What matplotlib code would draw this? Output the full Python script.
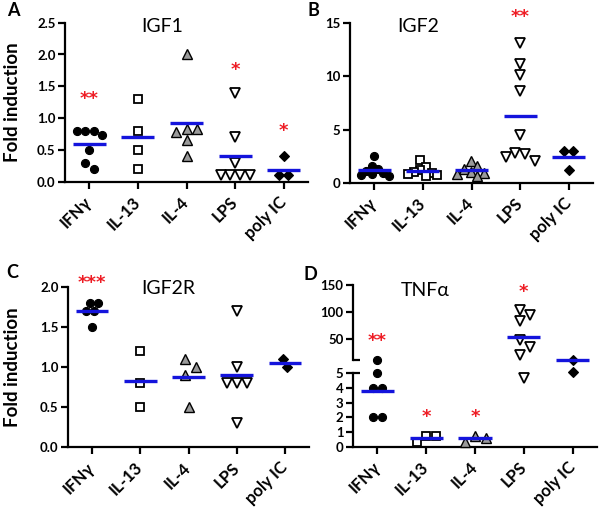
import matplotlib
matplotlib.use("Agg")
import matplotlib.pyplot as plt
import numpy as np

plt.rcParams['font.family'] = ['Lato', 'DejaVu Sans']
plt.rcParams['font.weight'] = 'bold'

categories = ["IFNγ", "IL-13", "IL-4", "LPS", "poly IC"]

# ---- Panel A: IGF1 ----
igf1_values = [
    [0.8, 0.73, 0.8, 0.8, 0.5, 0.3, 0.2],
    [1.3, 0.8, 0.5, 0.2],
    [2.0, 0.83, 0.78, 0.83, 0.65, 0.4],
    [1.4, 0.7, 0.3, 0.1, 0.1, 0.1, 0.1],
    [0.4, 0.1, 0.1],
]
igf1_means = [0.59, 0.70, 0.93, 0.40, 0.19]
igf1_stars = ["**", "", "", "*", "*"]
igf1_star_y = [1.3, None, None, 1.75, 0.8]

# ---- Panel B: IGF2 ----
igf2_values = [
    [2.5, 1.6, 1.3, 1.1, 0.9, 0.8, 0.7, 0.6],
    [2.1, 1.5, 1.2, 1.0, 0.9, 0.8, 0.7, 0.6],
    [2.0, 1.6, 1.3, 1.0, 0.9, 0.8, 0.6],
    [13.1, 11.2, 10.1, 8.6, 4.5, 2.8, 2.7, 2.45, 2.05],
    [3.0, 3.0, 1.15],
]
igf2_means = [1.2, 1.1, 1.2, 6.3, 2.45]
igf2_stars = ["", "", "", "**", ""]
igf2_star_y = [None, None, None, 15.6, None]

# ---- Panel C: IGF2R ----
igf2r_values = [
    [1.8, 1.8, 1.7, 1.7, 1.5],
    [1.2, 0.8, 0.5],
    [1.1, 1.0, 0.9, 0.5],
    [1.7, 1.0, 0.8, 0.8, 0.8, 0.3],
    [1.0, 1.1],
]
igf2r_means = [1.7, 0.83, 0.88, 0.9, 1.05]
igf2r_stars = ["***", "", "", "", ""]
igf2r_star_y = [2.05, None, None, None, None]

# ---- Panel D: TNFa (broken axis) ----
tnf_values = [
    [10, 5, 4, 4, 2, 2],
    [0.7, 0.7, 0.35],
    [0.7, 0.6, 0.3],
    [103, 94, 83, 47, 34, 19, 4.7],
    [10, 5.1],
]
tnf_means = [3.8, 0.57, 0.57, 53.5, 10]
tnf_stars = ["**", "*", "*", "*", ""]
tnf_star_y = [45, 2.0, 2.0, 136, None]

BLUE = '#1414dc'
RED = '#ee1c24'

marker_styles = [
    dict(marker='o', mfc='black', mec='black', ms=5.8, mew=0.8),
    dict(marker='s', mfc='white', mec='black', ms=6.0, mew=1.3),
    dict(marker='^', mfc='#9a9a9a', mec='black', ms=7.0, mew=1.0),
    dict(marker='v', mfc='white', mec='black', ms=6.6, mew=1.3),
    dict(marker='D', mfc='black', mec='black', ms=4.6, mew=0.8),
]
marker_px = [8.5, 9.5, 10.5, 10.0, 9.5]
MAX_SPREAD = 0.30  # max horizontal scatter, in category units

fig = plt.figure(figsize=(6.0, 5.13), dpi=100)


def style_axis(ax, xaxis=True):
    for s in ['top', 'right']:
        ax.spines[s].set_visible(False)
    ax.spines['left'].set_linewidth(1.6)
    ax.spines['bottom'].set_linewidth(1.6)
    ax.tick_params(axis='both', direction='out', length=4.8, width=1.6,
                   labelsize=9.5, pad=2)
    ax.set_xlim(-0.5, 4.5)
    ax.set_xticks(range(len(categories)))
    if xaxis:
        ax.set_xticklabels(categories, rotation=45, ha='right', va='center',
                           rotation_mode='anchor', fontsize=12)
        ax.tick_params(axis='x', pad=8)
    else:
        ax.spines['bottom'].set_visible(False)
        ax.tick_params(axis='x', bottom=False, labelbottom=False)


def swarm(ypx, d):
    ypx = np.asarray(ypx, dtype=float)
    n = len(ypx)
    xs = np.zeros(n)
    placed = []
    cand = [0.0]
    for k in range(1, 30):
        cand += [k * 0.5 * d, -k * 0.5 * d]
    for i in np.argsort(-ypx, kind='stable'):
        c = 0.0
        for c in cand:
            if all((c - px) ** 2 + (ypx[i] - py) ** 2 >= (0.97 * d) ** 2
                   for px, py in placed):
                break
        xs[i] = c
        placed.append((c, ypx[i]))
    srt = np.argsort(ypx, kind='stable')
    clusters = [[srt[0]]]
    for a, b in zip(srt[:-1], srt[1:]):
        if ypx[b] - ypx[a] < d:
            clusters[-1].append(b)
        else:
            clusters.append([b])
    for cl in clusters:
        xs[cl] -= xs[cl].mean()
    return xs


def draw_panel(ax_for, values, means, stars, star_y):
    for i, vals in enumerate(values):
        axs = [ax_for(v) for v in vals]
        ypx = [a.transData.transform((i, v))[1] for a, v in zip(axs, vals)]
        a0 = axs[0]
        ppu = a0.transData.transform((1, 0))[0] - a0.transData.transform((0, 0))[0]
        offs = swarm(ypx, marker_px[i]) / ppu
        mx = np.abs(offs).max()
        if mx > MAX_SPREAD:
            offs = offs * MAX_SPREAD / mx
        for a, v, o in zip(axs, vals, offs):
            a.plot([i + o], [v], linestyle='none', clip_on=False, zorder=3,
                   **marker_styles[i])
        m = means[i]
        ax_for(m).plot([i - 0.34, i + 0.34], [m, m], color=BLUE, lw=2.4,
                       solid_capstyle='butt', zorder=5, clip_on=False)
        if stars[i]:
            ax_for(star_y[i]).text(i, star_y[i], stars[i], color=RED,
                                   ha='center', va='center', fontsize=13,
                                   fontweight='bold', family='DejaVu Sans',
                                   clip_on=False)


# ---------- Panel A ----------
axA = fig.add_axes([65 / 600, 1 - 181.7 / 513, 243 / 600, 159 / 513])
style_axis(axA)
axA.set_ylim(0, 2.5)
axA.set_yticks([0, 0.5, 1.0, 1.5, 2.0, 2.5])
axA.set_yticklabels(['0.0', '0.5', '1.0', '1.5', '2.0', '2.5'])
draw_panel(lambda v: axA, igf1_values, igf1_means, igf1_stars, igf1_star_y)
axA.text(0.40, 0.973, 'IGF1', transform=axA.transAxes, ha='center',
         va='center', fontsize=14, fontweight='normal')
axA.set_ylabel('Fold induction', fontsize=13.5, fontweight='bold')
axA.yaxis.set_label_coords(-0.218, 0.5)
axA.yaxis.label.set_verticalalignment('center')

# ---------- Panel B ----------
axB = fig.add_axes([350 / 600, 1 - 182.7 / 513, 243 / 600, 159.4 / 513])
style_axis(axB)
axB.set_ylim(0, 15)
axB.set_yticks([0, 5, 10, 15])
draw_panel(lambda v: axB, igf2_values, igf2_means, igf2_stars, igf2_star_y)
axB.text(0.28, 0.979, 'IGF2', transform=axB.transAxes, ha='center',
         va='center', fontsize=14, fontweight='normal')

# ---------- Panel C ----------
axC = fig.add_axes([68 / 600, 1 - 447.3 / 513, 241 / 600, 160.6 / 513])
style_axis(axC)
axC.set_ylim(0, 2.0)
axC.set_yticks([0, 0.5, 1.0, 1.5, 2.0])
axC.set_yticklabels(['0.0', '0.5', '1.0', '1.5', '2.0'])
draw_panel(lambda v: axC, igf2r_values, igf2r_means, igf2r_stars, igf2r_star_y)
axC.text(0.416, 0.99, 'IGF2R', transform=axC.transAxes, ha='center',
         va='center', fontsize=14, fontweight='normal')
axC.set_ylabel('Fold induction', fontsize=13.5, fontweight='bold')
axC.yaxis.set_label_coords(-0.232, 0.5)
axC.yaxis.label.set_verticalalignment('center')

# ---------- Panel D (broken axis) ----------
axDl = fig.add_axes([353 / 600, 1 - 446.7 / 513, 244 / 600, 73.4 / 513])
axDu = fig.add_axes([353 / 600, 1 - 360 / 513, 244 / 600, 75 / 513])
style_axis(axDl)
style_axis(axDu, xaxis=False)
axDl.set_ylim(0, 5)
axDl.set_yticks([0, 1, 2, 3, 4, 5])
axDu.set_ylim(10, 150)
axDu.set_yticks([50, 100, 150])
for a in (axDl, axDu):
    a.patch.set_visible(False)
axDu.plot([0, 0.03], [0, 0], transform=axDu.transAxes, color='black',
          lw=1.6, clip_on=False, solid_capstyle='butt')
axDl.plot([0, 0.03], [1, 1], transform=axDl.transAxes, color='black',
          lw=1.6, clip_on=False, solid_capstyle='butt')
draw_panel(lambda v: axDl if v <= 5.5 else axDu, tnf_values, tnf_means,
           tnf_stars, tnf_star_y)
axDu.text(0.295, 0.933, 'TNFα', transform=axDu.transAxes, ha='center',
          va='center', fontsize=14, fontweight='normal')

# ---------- Panel letters ----------
for lbl, x, y in [('A', 13, 10), ('B', 313, 10), ('C', 12, 273), ('D', 310, 275)]:
    fig.text(x / 600, 1 - y / 513, lbl, fontsize=13, fontweight='bold',
             ha='center', va='center')

fig.savefig('out.png', dpi=100)
